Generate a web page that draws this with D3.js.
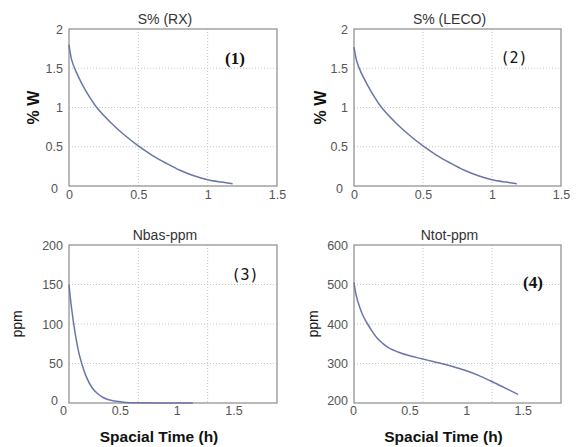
<!DOCTYPE html>
<html><head><meta charset="utf-8">
<script src="https://cdn.jsdelivr.net/npm/d3@7"></script>
<style>body{margin:0;background:#fff}svg{display:block}</style>
</head><body>
<script>
// ---- data ----
const titles = ["S% (RX)", "S% (LECO)", "Nbas-ppm", "Ntot-ppm"];
const tags = ["(1)", "(2)", "(3)", "(4)"];
const yLabels = ["% W", "% W", "ppm", "ppm"];
const xTitle = "Spacial Time (h)";
const xTicksTop = [0, 0.5, 1, 1.5];
const xTicksBottom = [0, 0.5, 1, 1.5];
const yTicks1 = [0, 0.5, 1, 1.5, 2];
const yTicks3 = [0, 50, 100, 150, 200];
const yTicks4 = [200, 300, 400, 500, 600];

const x1 = [0, 0.02, 0.05, 0.1, 0.15, 0.2, 0.3, 0.4, 0.5, 0.6, 0.7, 0.8, 0.9, 1.0, 1.1, 1.18];
const y1 = [1.80, 1.60, 1.46, 1.28, 1.13, 1.0, 0.81, 0.65, 0.51, 0.39, 0.29, 0.20, 0.13, 0.08, 0.05, 0.03];
const x2 = [0, 0.02, 0.05, 0.1, 0.15, 0.2, 0.3, 0.4, 0.5, 0.6, 0.7, 0.8, 0.9, 1.0, 1.1, 1.18];
const y2 = [1.77, 1.59, 1.45, 1.28, 1.13, 1.0, 0.81, 0.65, 0.51, 0.39, 0.29, 0.20, 0.13, 0.08, 0.05, 0.03];
const x3 = [0, 0.02, 0.05, 0.08, 0.1, 0.15, 0.2, 0.25, 0.3, 0.35, 0.4, 0.5, 0.6, 0.8, 1.0, 1.09];
const y3 = [150, 123, 92, 68, 56, 34, 20, 12, 7, 4, 2.5, 0.7, 0.2, 0, 0, 0];
const x4 = [0, 0.02, 0.05, 0.08, 0.12, 0.16, 0.2, 0.25, 0.3, 0.4, 0.5, 0.6, 0.7, 0.8, 0.9, 1.0, 1.1, 1.2, 1.3, 1.45];
const y4 = [505, 472, 443, 421, 400, 382, 366, 352, 341, 328, 319, 312, 305, 298, 290, 281, 270, 257, 243, 222];

// ---- layout ----
const W = 576, H = 447;
const svg = d3.select("body").append("svg").attr("width", W).attr("height", H)
  .style("font-family", "Arial, 'Liberation Sans', sans-serif");

const serif = "'Liberation Serif', 'DejaVu Serif', serif";
const mono = "'DejaVu Sans Mono', 'Liberation Mono', monospace";
const panels = [
  {x: x1, y: y1, xd: [0, 1.5], yd: [0, 2], xt: xTicksTop, yt: yTicks1, box: [69, 29, 277, 186], top: true,
   ylx: 33, ylBold: true, tagPos: [235, 64], tagFont: serif, tagW: "bold", xlDx: 0},
  {x: x2, y: y2, xd: [0, 1.5], yd: [0, 2], xt: xTicksTop, yt: yTicks1, box: [354, 29, 561, 186], top: true,
   ylx: 320, ylBold: true, tagPos: [514, 63], tagFont: mono, tagW: "normal", xlDx: 0},
  {x: x3, y: y3, xd: [0, 1.83], yd: [0, 200], xt: xTicksBottom, yt: yTicks3, box: [69, 245, 277, 403], top: false,
   ylx: 17, ylBold: false, tagPos: [245, 280], tagFont: mono, tagW: "normal", xlDx: -6},
  {x: x4, y: y4, xd: [0, 1.83], yd: [200, 600], xt: xTicksBottom, yt: yTicks4, box: [354, 245, 561, 403], top: false,
   ylx: 313, ylBold: false, tagPos: [533, 288], tagFont: serif, tagW: "bold", xlDx: -1}
];

const tickColor = "#555";
panels.forEach((p, i) => {
  const [l, t, r, b] = p.box;
  const xs = d3.scaleLinear().domain(p.xd).range([l, r]);
  const ys = d3.scaleLinear().domain(p.yd).range([b, t]);
  const g = svg.append("g");

  // grid
  const span = p.xd[1] - p.xd[0];
  const gridX = [p.xd[0] + span / 3, p.xd[0] + 2 * span / 3];
  g.selectAll(".gx").data(gridX).join("line")
    .attr("x1", d => xs(d)).attr("x2", d => xs(d)).attr("y1", t).attr("y2", b)
    .attr("stroke", "#c4c4c4").attr("stroke-width", 1).attr("stroke-dasharray", "1,2");
  g.selectAll(".gy").data(p.yt.slice(1, -1)).join("line")
    .attr("x1", l).attr("x2", r).attr("y1", d => ys(d)).attr("y2", d => ys(d))
    .attr("stroke", "#c4c4c4").attr("stroke-width", 1).attr("stroke-dasharray", "1,2");

  // box
  g.append("rect").attr("x", l).attr("y", t).attr("width", r - l).attr("height", b - t)
    .attr("fill", "none").attr("stroke", "#8a8a8a").attr("stroke-width", 1.2);

  // y tick labels
  const yAxis = d3.axisLeft(ys).tickValues(p.yt).tickSize(0).tickPadding(6).tickFormat(d3.format("~g"));
  const ya = g.append("g").attr("transform", `translate(${l},0)`).call(yAxis);
  ya.select(".domain").remove();
  ya.selectAll("text").attr("fill", tickColor).style("font-size", "12.5px");
  if (p.top) ya.selectAll("text").filter(d => d === p.yd[0]).attr("dx", -5).attr("dy", "0.5em");
  else ya.selectAll("text").filter(d => d === p.yd[0]).attr("dx", p.yd[0] === 0 ? -5 : 0).attr("dy", "0.1em");

  // x tick labels
  const xAxis = d3.axisBottom(xs).tickValues(p.xt).tickSize(0).tickPadding(p.top ? 4 : 3).tickFormat(d3.format("~g"));
  const xa = g.append("g").attr("transform", `translate(${p.xlDx},${b})`).call(xAxis);
  xa.select(".domain").remove();
  xa.selectAll("text").attr("fill", tickColor).style("font-size", "12.5px");

  // line
  const pts = p.x.map((xv, k) => [xv, p.y[k]]);
  g.append("path").datum(pts)
    .attr("d", d3.line().x(d => xs(d[0])).y(d => ys(d[1])).curve(d3.curveCatmullRom.alpha(0.5)))
    .attr("fill", "none").attr("stroke", "#6a76aa").attr("stroke-width", 1.5);

  // title
  g.append("text").attr("x", (l + r) / 2 - 8).attr("y", t - 5).attr("text-anchor", "middle")
    .attr("fill", "#333").style("font-size", "14px").text(titles[i]);

  // y label
  g.append("text").attr("transform", `translate(${p.ylx},${(t + b) / 2}) rotate(-90)`)
    .attr("text-anchor", "middle").attr("dy", "0.35em")
    .attr("fill", "#111").style("font-size", p.ylBold ? "16px" : "14px")
    .style("font-weight", p.ylBold ? "bold" : "normal").text(yLabels[i]);

  // tag
  g.append("text").attr("x", p.tagPos[0]).attr("y", p.tagPos[1]).attr("text-anchor", "middle")
    .attr("fill", "#111").style("font-family", p.tagFont).style("font-weight", p.tagW)
    .style("font-size", p.tagFont === serif ? "17px" : "15px").text(tags[i]);

  // x title
  if (!p.top) {
    g.append("text").attr("x", (l + r) / 2 - 14).attr("y", 442).attr("text-anchor", "middle")
      .attr("fill", "#111").style("font-size", "15.5px").style("font-weight", "bold").text(xTitle);
  }
});
</script>
</body></html>
